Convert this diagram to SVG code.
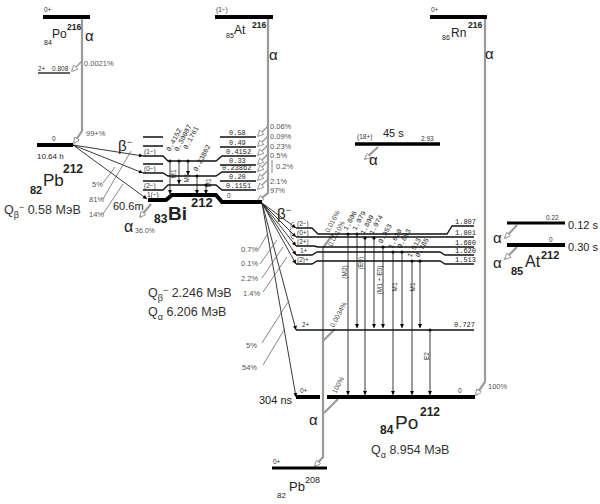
<svg xmlns="http://www.w3.org/2000/svg" width="600" height="504" viewBox="0 0 600 504">
<defs>
<marker id="oa" viewBox="0 0 10 10" refX="9" refY="5" markerWidth="9" markerHeight="6" markerUnits="userSpaceOnUse" orient="auto"><path d="M0,0 L10,5 L0,10 z" fill="#fff" stroke="#777" stroke-width="1.2"/></marker>
<marker id="fa" viewBox="0 0 10 10" refX="10" refY="5" markerWidth="8" markerHeight="4" markerUnits="userSpaceOnUse" orient="auto"><path d="M0,0 L10,5 L0,10 z" fill="#000"/></marker>
<style>
.bar{stroke:#000;stroke-width:4;fill:none}
.lv{stroke:#111;stroke-width:1.3;fill:none}
.al{stroke:#9a9a9a;stroke-width:2.2;fill:none;marker-end:url(#oa)}
.al0{stroke:#9a9a9a;stroke-width:2.2;fill:none}
.bt{stroke:#222;stroke-width:0.9;fill:none;marker-end:url(#fa)}
.th{stroke:#555;stroke-width:0.7;fill:none}
.gm{stroke:#222;stroke-width:0.9;fill:none;marker-end:url(#fa)}
.dot{fill:#000}
text{font-family:"Liberation Sans",Arial,sans-serif;fill:#222}
.s{font-size:6.5px;fill:#333}
.m{font-family:"Liberation Mono",monospace;font-size:7px;fill:#222}
.p{font-size:7.5px;fill:#555}
.big{font-size:12.5px;fill:#333}
.a{font-size:15px}
.b{font-weight:bold}
</style>
</defs>
<rect width="600" height="504" fill="#fff"/>

<g id="connectors">
  <!-- alpha transitions -->
  <path class="al" d="M82,19 V131 L74,143"/>
  <path class="al" style="stroke-width:1.5" d="M82,61 L72,71"/>
  <path class="al" d="M268,19 V193 L258,201"/>
  <path class="al" style="stroke-width:1.5" d="M268,126 L258,136"/>
  <path class="al" style="stroke-width:1.5" d="M268,136 L258,146"/>
  <path class="al" style="stroke-width:1.5" d="M268,145 L258,155"/>
  <path class="al" style="stroke-width:1.5" d="M268,154 L258,164"/>
  <path class="al" style="stroke-width:1.5" d="M268,161 L258,171"/>
  <path class="al" style="stroke-width:1.5" d="M268,170 L258,180"/>
  <path class="al" style="stroke-width:1.5" d="M268,179 L258,189"/>
  <path class="al" d="M485,19 V382 L476,395"/>
  <path class="al" d="M378,147 L365,159"/>
  <path class="al" d="M517,225 L505,238"/>
  <path class="al" d="M517,247 L505,259"/>
  <path class="al" d="M151,204 L140,217"/>
  <path class="al" d="M323,248 V457 L315,466"/>
  <path class="al0" d="M333,234 L323,248"/>
  <path class="al0" d="M335,329 L323,341"/>
  <path class="al0" d="M338,399 L324,413"/>

  <!-- beta Pb212 -> Bi212 -->
  <path class="bt" d="M73,145 L143,156"/>
  <path class="bt" d="M73,145 L143,173"/>
  <path class="bt" d="M73,145 L147,199"/>
  <path class="th" d="M103,183 L115,167"/>
  <path class="th" d="M103,199 L131,151"/>
  <path class="th" d="M103,214 L123,184"/>

  <!-- beta Bi212 -> Po212 -->
  <path class="bt" d="M262,203 L296,228"/>
  <path class="bt" d="M262,203 L296,237"/>
  <path class="bt" d="M262,203 L296,246"/>
  <path class="bt" d="M262,203 L296,255"/>
  <path class="bt" d="M262,203 L296,264"/>
  <path class="bt" d="M262,203 L296,330"/>
  <path class="bt" d="M262,203 L296,397"/>
  <path class="th" d="M258,250 L268,233"/>
  <path class="th" d="M260,264 L277,240"/>
  <path class="th" d="M262,278 L283,247"/>
  <path class="th" d="M263,292 L287,257"/>
  <path class="th" d="M262,343 L288,302"/>
  <path class="th" d="M263,365 L284,330"/>

  <!-- gammas Bi212 -->
  <path class="gm" d="M170,162 V194"/>
  <path class="gm" d="M179,162 V184"/>
  <path class="gm" d="M188,162 V175"/>
  <path class="gm" d="M197,177 V194"/>
  <path class="gm" d="M206,186 V194"/>
  <circle class="dot" cx="170" cy="161" r="1.6"/>
  <circle class="dot" cx="179" cy="161" r="1.6"/>
  <circle class="dot" cx="188" cy="161" r="1.6"/>
  <circle class="dot" cx="197" cy="176" r="1.6"/>
  <circle class="dot" cx="206" cy="185" r="1.6"/>

  <!-- gammas Po212 -->
  <path class="gm" d="M348,235 V395"/>
  <path class="gm" d="M357,235 V328"/>
  <path class="gm" d="M365,239 V395"/>
  <path class="gm" d="M374,239 V328"/>
  <path class="gm" d="M383,248 V328"/>
  <path class="gm" d="M393,253 V395"/>
  <path class="gm" d="M402,253 V328"/>
  <path class="gm" d="M412,262 V395"/>
  <path class="gm" d="M420,262 V328"/>
  <path class="gm" d="M430,331 V395"/>
  <circle class="dot" cx="348" cy="234" r="1.6"/>
  <circle class="dot" cx="357" cy="234" r="1.6"/>
  <circle class="dot" cx="365" cy="238" r="1.6"/>
  <circle class="dot" cx="374" cy="238" r="1.6"/>
  <circle class="dot" cx="383" cy="247" r="1.6"/>
  <circle class="dot" cx="393" cy="252" r="1.6"/>
  <circle class="dot" cx="402" cy="252" r="1.6"/>
  <circle class="dot" cx="412" cy="261" r="1.6"/>
  <circle class="dot" cx="420" cy="261" r="1.6"/>
  <circle class="dot" cx="430" cy="330" r="1.6"/>

  <!-- transition labels -->
  <text class="p" x="84" y="66">0.0021%</text>
  <text class="p" x="86" y="136">99+%</text>
  <text class="p" x="270" y="129">0.06%</text>
  <text class="p" x="270" y="139">0.09%</text>
  <text class="p" x="270" y="149">0.23%</text>
  <text class="p" x="270" y="158">0.5%</text>
  <path class="th" d="M272,160 V173"/>
  <text class="p" x="276" y="169">0.2%</text>
  <text class="p" x="270" y="184">2.1%</text>
  <text class="p" x="270" y="193">97%</text>
  <text class="p" x="488" y="389">100%</text>
  <text class="p" x="92" y="187">5%</text>
  <text class="p" x="89" y="202">81%</text>
  <text class="p" x="89" y="217">14%</text>
  <text class="p" x="241" y="252">0.7%</text>
  <text class="p" x="241" y="266">0.1%</text>
  <text class="p" x="241" y="281">2.2%</text>
  <text class="p" x="243" y="296">1.4%</text>
  <text class="p" x="246" y="348">5%</text>
  <text class="p" x="242" y="370">54%</text>
  <text x="118" y="151" style="font-size:15px">β<tspan font-size="9" dy="-6">−</tspan></text>
  <text x="277" y="219" style="font-size:15px">β<tspan font-size="9" dy="-6">−</tspan></text>
  <text class="a" x="85" y="41">α</text>
  <text class="a" x="269" y="60">α</text>
  <text class="a" x="485" y="59">α</text>
  <text class="a" x="369" y="165">α</text>
  <text class="a" x="493" y="243">α</text>
  <text class="a" x="493" y="268">α</text>
  <text x="124" y="232" style="font-size:16px">α</text>
  <text class="p" x="135" y="233" style="font-size:7px">36.0%</text>
  <text class="a" x="309" y="425">α</text>

  <!-- rotated gamma energies Bi212 -->
  <text class="m" transform="translate(170,152) rotate(-62)">0.4152</text>
  <text class="m" transform="translate(178,152) rotate(-62)">0.30007</text>
  <text class="m" transform="translate(187,150) rotate(-62)">0.1761</text>
  <text class="m" transform="translate(197,172) rotate(-62)">0.23862</text>
  <text class="s" text-anchor="middle" transform="translate(176,174) rotate(-90)">M1</text>
  <text class="s" text-anchor="middle" transform="translate(189,178) rotate(-90)">M1</text>
  <text class="s" text-anchor="middle" transform="translate(211,183) rotate(-90)">M1</text>

  <!-- rotated labels Po212 -->
  <text class="m" transform="translate(347,231) rotate(-62)">1.806</text>
  <text class="m" transform="translate(356,231) rotate(-62)">1.079</text>
  <text class="m" transform="translate(364,235) rotate(-62)">1.800</text>
  <text class="m" transform="translate(373,235) rotate(-62)">1.074</text>
  <text class="m" transform="translate(382,244) rotate(-62)">0.953</text>
  <text class="m" transform="translate(392,249) rotate(-62)">1.620</text>
  <text class="m" transform="translate(401,249) rotate(-62)">0.893</text>
  <text class="m" transform="translate(411,258) rotate(-62)">1.513</text>
  <text class="m" transform="translate(419,258) rotate(-62)">0.785</text>
  <text class="p" style="font-size:7px" transform="translate(329,233) rotate(-62)">0.016%</text>
  <text class="p" style="font-size:7px" transform="translate(332,247) rotate(-62)">0.0010%</text>
  <text class="p" style="font-size:7px" transform="translate(334,328) rotate(-62)">0.0034%</text>
  <text class="p" style="font-size:7px" transform="translate(336,394) rotate(-62)">100%</text>
  <text class="s" text-anchor="middle" transform="translate(347,272) rotate(-90)">(M2)</text>
  <text class="s" text-anchor="middle" transform="translate(363,263) rotate(-90)">(E0)</text>
  <text class="s" text-anchor="middle" transform="translate(382,280) rotate(-90)">(M1 + E0)</text>
  <text class="s" text-anchor="middle" transform="translate(397,287) rotate(-90)">M1</text>
  <text class="s" text-anchor="middle" transform="translate(415,287) rotate(-90)">M1</text>
  <text class="s" text-anchor="middle" transform="translate(429,356) rotate(-90)">E2</text>
</g>

<g id="po216">
  <path class="bar" d="M43,17 H90"/>
  <text class="s" x="44" y="12">0+</text>
  <text x="44" y="45" style="font-size:7px">84</text>
  <text x="52" y="38" style="font-size:12px">Po</text>
  <text class="b" x="67" y="30" style="font-size:8.5px">216</text>
  <path class="lv" d="M38,73 H70"/>
  <text class="s" x="38" y="71">2+</text>
  <text class="s" x="52" y="71">0.808</text>
</g>

<g id="at216">
  <path class="bar" d="M215,17 H273"/>
  <text class="s" x="216" y="12">(1−)</text>
  <text x="226" y="38" style="font-size:7px">85</text>
  <text x="234" y="34" style="font-size:12px">At</text>
  <text class="b" x="252" y="28" style="font-size:8.5px">216</text>
</g>

<g id="rn216">
  <path class="bar" d="M430,17 H487"/>
  <text class="s" x="431" y="12">0+</text>
  <text x="442" y="40" style="font-size:7px">86</text>
  <text x="451" y="37" style="font-size:12px">Rn</text>
  <text class="b" x="468" y="28" style="font-size:8.5px">216</text>
</g>

<g id="isomer">
  <path class="bar" style="stroke-width:3.5" d="M355,144 H440"/>
  <text class="s" x="357" y="139">(18+)</text>
  <text x="383" y="137" style="font-size:11px">45 s</text>
  <text class="s" x="421" y="141">2.93</text>
</g>

<g id="pb212">
  <path class="bar" d="M37,145 H73"/>
  <text class="s" x="52" y="141">0</text>
  <text x="37" y="159" style="font-size:8px">10.64 h</text>
  <text class="b" x="30" y="194" style="font-size:11px">82</text>
  <text x="43" y="186" style="font-size:17px">Pb</text>
  <text class="b" x="63" y="173" style="font-size:12px">212</text>
  <text class="big" x="4" y="214">Q<tspan font-size="9" dy="4">β</tspan><tspan font-size="9" dy="-8">−</tspan><tspan dy="4"> 0.58 МэВ</tspan></text>
</g>

<g id="bi212">
  <path class="lv" d="M143,137 H163 M220,137 H256"/>
  <path class="lv" d="M143,146 H163 M220,147 H256"/>
  <path class="lv" d="M143,156 H163 L168,161 H216 L222,156 H256"/>
  <path class="lv" d="M143,164 H163 M220,165 H256"/>
  <path class="lv" d="M143,173 H163 L168,176 H216 L222,172 H256"/>
  <path class="lv" d="M143,181 H163 M220,181 H256"/>
  <path class="lv" d="M143,190 H163 L168,185 H216 L222,190 H256"/>
  <path class="bar" d="M148,200 H166 L172,195 H216 L222,202 H262"/>
  <text class="s" x="144" y="154">(1−)</text>
  <text class="s" x="144" y="171">(0−)</text>
  <text class="s" x="144" y="188">(2−)</text>
  <text class="s" x="147" y="197">1(−)</text>
  <text class="s" x="227" y="198">0</text>
  <text class="m" x="229" y="135">0.58</text>
  <text class="m" x="229" y="145">0.49</text>
  <text class="m" x="226" y="154">0.4152</text>
  <text class="m" x="229" y="163">0.33</text>
  <text class="m" x="222" y="170">0.23862</text>
  <text class="m" x="229" y="179">0.20</text>
  <text class="m" x="226" y="188">0.1151</text>
  <text x="113" y="210" style="font-size:11px">60.6m</text>
  <text class="b" x="154" y="223" style="font-size:12px">83</text>
  <text class="b" x="168" y="220" style="font-size:19px">Bi</text>
  <text class="b" x="191" y="207" style="font-size:13px">212</text>
  <text class="big" x="148" y="297">Q<tspan font-size="9" dy="4">β</tspan><tspan font-size="9" dy="-8">−</tspan><tspan dy="4"> 2.246 МэВ</tspan></text>
  <text class="big" x="148" y="316">Q<tspan font-size="9" dy="4">α</tspan><tspan dy="-4"> 6.206 МэВ</tspan></text>
</g>

<g id="po212">
  <path class="lv" d="M296,228 H312 L318,234 H447 L452,226 H474"/>
  <path class="lv" d="M296,237 H474"/>
  <path class="lv" d="M296,246 H314 L318,247 H474"/>
  <path class="lv" d="M296,255 H312 L317,252 H440 L445,255 H474"/>
  <path class="lv" d="M296,264 H312 L317,261 H440 L445,264 H474"/>
  <path class="th" d="M294,222 Q291,222 291,226 V229 L289,231 L291,233 V236 Q291,239 294,239"/>
  <text class="s" x="297" y="226">(2−)</text>
  <text class="s" x="297" y="235">(0+)</text>
  <text class="s" x="297" y="244">(2+)</text>
  <text class="s" x="300" y="253">1+</text>
  <text class="s" x="297" y="262">(2)+</text>
  <text class="m" x="455" y="224">1.807</text>
  <text class="m" x="455" y="235">1.801</text>
  <text class="m" x="455" y="245">1.680</text>
  <text class="m" x="455" y="253">1.620</text>
  <text class="m" x="455" y="262">1.513</text>
  <path class="lv" d="M296,330 H474"/>
  <text class="s" x="302" y="327">2+</text>
  <text class="m" x="454" y="327">0.727</text>
  <path class="bar" d="M296,397 H320 M327,397 H475"/>
  <text class="s" x="300" y="393">0+</text>
  <text class="s" x="458" y="393">0</text>
  <text x="259" y="404" style="font-size:11px">304 ns</text>
  <text class="b" x="380" y="434" style="font-size:12px">84</text>
  <text x="395" y="429" style="font-size:19px">Po</text>
  <text class="b" x="420" y="416" style="font-size:12px">212</text>
  <text class="big" x="371" y="454">Q<tspan font-size="9" dy="4">α</tspan><tspan dy="-4"> 8.954 МэВ</tspan></text>
</g>

<g id="pb208">
  <path class="bar" style="stroke-width:3" d="M272,468 H327"/>
  <text class="s" x="273" y="464">0+</text>
  <text x="277" y="498" style="font-size:8px">82</text>
  <text x="289" y="491" style="font-size:13px">Pb</text>
  <text x="305" y="483" style="font-size:9px">208</text>
</g>

<g id="at212">
  <path class="bar" style="stroke-width:3" d="M507,223 H565"/>
  <path class="bar" d="M507,245 H565"/>
  <text class="s" x="546" y="220">0.22</text>
  <text class="s" x="549" y="242">0</text>
  <text x="568" y="229" style="font-size:11px">0.12 s</text>
  <text x="568" y="251" style="font-size:11px">0.30 s</text>
  <text class="b" x="511" y="275" style="font-size:11px">85</text>
  <text x="525" y="267" style="font-size:16px">At</text>
  <text class="b" x="541" y="259" style="font-size:11px">212</text>
</g>
</svg>
